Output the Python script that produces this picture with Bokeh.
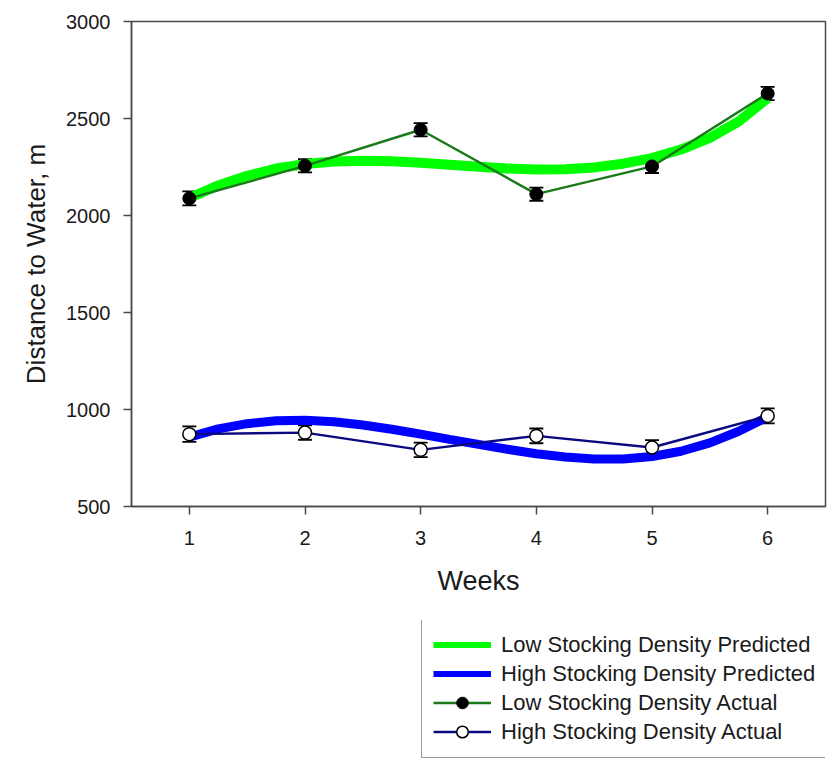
from bokeh.plotting import figure
from bokeh.models import ColumnDataSource, Whisker, TeeHead, Legend, LegendItem, FixedTicker, Range1d
from bokeh.layouts import column
from bokeh.embed import file_html
from bokeh.resources import INLINE

# ---- data ----
weeks = [1, 2, 3, 4, 5, 6]
low_actual = [2088, 2256, 2442, 2110, 2253, 2629]
low_err = [36, 34, 34, 34, 34, 34]
high_actual = [873, 881, 792, 864, 804, 967]
high_err = [40, 37, 37, 38, 38, 39]

pred_weeks = [1.0, 1.25, 1.5, 1.75, 2.0, 2.25, 2.5, 2.75, 3.0, 3.25, 3.5,
              3.75, 4.0, 4.25, 4.5, 4.75, 5.0, 5.25, 5.5, 5.75, 6.0]
low_pred = [2090, 2155, 2205, 2242, 2265, 2278, 2282, 2280, 2272, 2262, 2251,
            2242, 2237, 2238, 2248, 2267, 2296, 2340, 2400, 2485, 2605]
high_pred = [858, 900, 927, 942, 945, 937, 920, 898, 873, 846, 820,
             795, 772, 755, 745, 745, 758, 785, 828, 888, 962]

y_ticks = [500, 1000, 1500, 2000, 2500, 3000]
x_ticks = [1, 2, 3, 4, 5, 6]
series_labels = ["Low Stocking Density Predicted", "High Stocking Density Predicted",
                 "Low Stocking Density Actual", "High Stocking Density Actual"]

FONT = "Liberation Sans"
TXT = "#1a1a1a"
AX = "#4a4a4a"
C_LP, C_HP, C_LA, C_HA = "#00ff00", "#0000ff", "#1a7a1a", "#0a0a80"

p = figure(width=833, height=620, x_range=(0.5, 6.5), y_range=(500, 3000),
           output_backend="svg", toolbar_location=None,
           min_border_left=131, min_border_right=8, min_border_top=21,
           min_border_bottom=114)
p.xgrid.visible = False
p.ygrid.visible = False
p.outline_line_color = AX
p.outline_line_width = 1.5
p.background_fill_color = "white"
p.border_fill_color = "white"

for ax in (p.xaxis[0], p.yaxis[0]):
    ax.axis_line_color = AX
    ax.axis_line_width = 1.5
    ax.major_tick_line_color = AX
    ax.major_tick_line_width = 1.5
    ax.major_tick_in = 0
    ax.major_tick_out = 8
    ax.minor_tick_line_color = None
    ax.major_label_text_font = FONT
    ax.major_label_text_font_size = "20px"
    ax.major_label_text_color = TXT
    ax.axis_label_text_font = FONT
    ax.axis_label_text_font_size = "26px"
    ax.axis_label_text_font_style = "normal"
    ax.axis_label_text_color = TXT

p.xaxis[0].ticker = FixedTicker(ticks=x_ticks)
p.yaxis[0].ticker = FixedTicker(ticks=y_ticks)
p.xaxis[0].axis_label = "Weeks"
p.yaxis[0].axis_label = "Distance to Water, m"
p.xaxis[0].axis_label_text_font_size = "27px"
p.xaxis[0].major_label_standoff = 16
p.yaxis[0].major_label_standoff = 13
p.xaxis[0].axis_label_standoff = 18
p.yaxis[0].axis_label_standoff = 12

# predicted curves
p.line(pred_weeks, low_pred, line_color=C_LP, line_width=10)
p.line(pred_weeks, high_pred, line_color=C_HP, line_width=9)

# error bars
src_low = ColumnDataSource(dict(x=weeks, y=low_actual,
                                upper=[v + e for v, e in zip(low_actual, low_err)],
                                lower=[v - e for v, e in zip(low_actual, low_err)]))
src_high = ColumnDataSource(dict(x=weeks, y=high_actual,
                                 upper=[v + e for v, e in zip(high_actual, high_err)],
                                 lower=[v - e for v, e in zip(high_actual, high_err)]))
for s in (src_low, src_high):
    w = Whisker(source=s, base="x", upper="upper", lower="lower",
                line_color="black", line_width=1.5, level="underlay",
                upper_head=TeeHead(size=14, line_color="black", line_width=1.8),
                lower_head=TeeHead(size=14, line_color="black", line_width=1.8))
    p.add_layout(w)

# actual lines + markers
p.line("x", "y", source=src_low, line_color=C_LA, line_width=2.4)
p.scatter("x", "y", source=src_low, size=13, fill_color="black",
          line_color="black", line_width=1)
p.line("x", "y", source=src_high, line_color=C_HA, line_width=2.4)
p.scatter("x", "y", source=src_high, size=13, fill_color="white",
          line_color="black", line_width=1.5)

# ---- legend panel (below the chart); its own ranges keep the series out of view ----
q = figure(width=833, height=138, x_range=Range1d(100, 101), y_range=Range1d(0, 1),
           output_backend="svg", toolbar_location=None,
           x_axis_location=None, y_axis_location=None,
           min_border=0, min_border_left=131, min_border_right=0,
           min_border_top=0, min_border_bottom=0)
q.xgrid.visible = False
q.ygrid.visible = False
q.outline_line_color = None
q.border_fill_color = "white"
q.background_fill_color = "white"
g_lp = q.line(pred_weeks, low_pred, line_color=C_LP, line_width=6)
g_hp = q.line(pred_weeks, high_pred, line_color=C_HP, line_width=6)
g_la = q.line(weeks, low_actual, line_color=C_LA, line_width=2.4)
g_lm = q.scatter(weeks, low_actual, size=11, fill_color="black", line_color="black", line_width=1)
g_ha = q.line(weeks, high_actual, line_color=C_HA, line_width=2.4)
g_hm = q.scatter(weeks, high_actual, size=11, fill_color="white", line_color="black", line_width=1.5)

legend = Legend(items=[
    LegendItem(label=series_labels[0], renderers=[g_lp]),
    LegendItem(label=series_labels[1], renderers=[g_hp]),
    LegendItem(label=series_labels[2], renderers=[g_la, g_lm]),
    LegendItem(label=series_labels[3], renderers=[g_ha, g_hm]),
], location=(290, 0))
legend.label_text_font = FONT
legend.label_text_font_size = "22px"
legend.label_text_color = TXT
legend.label_height = 29
legend.glyph_height = 29
legend.glyph_width = 58
legend.label_standoff = 10
legend.padding = 11
legend.spacing = 0
legend.margin = 0
legend.border_line_color = "#333333"
legend.border_line_width = 1.5
legend.background_fill_color = "white"
legend.background_fill_alpha = 1
q.add_layout(legend, "center")

layout = column(p, q, spacing=0)
open("out.html", "w").write(file_html(layout, INLINE))
